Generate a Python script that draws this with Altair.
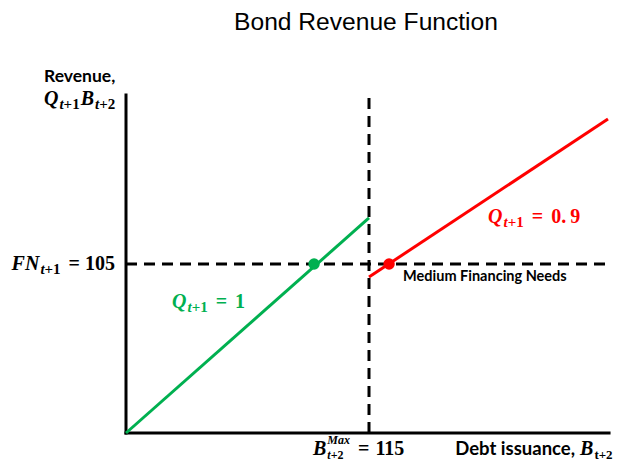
import altair as alt
import pandas as pd

# ---------------- data (picture units) ----------------
B_MAX = 115          # kink in debt issuance
FN = 105             # financing needs level
green_B = [0, 115]
green_R = [0, 133.6]
red_B = [115, 228.1]
red_R = [96.9, 195.1]
point_B = [89.0, 124.5]
point_R = [105, 105]
point_series = ["Q=1", "Q=0.9"]
X_END = 228.6        # end of horizontal axis
Y_TOP = 210          # top of vertical axis
V_TOP = 208.8        # top of vertical dashed line
H_END = 229.0        # end of horizontal dashed line

X_DOMAIN = [0, 230]
Y_DOMAIN = [0, 210]
W, H = 486, 338

GREEN = "#00B050"
RED = "#FF0000"
SERIF = "Liberation Serif"
SANS = "Lato"

xs = alt.Scale(domain=X_DOMAIN, nice=False, zero=False)
ys = alt.Scale(domain=Y_DOMAIN, nice=False, zero=False)
cs = alt.Scale(domain=point_series, range=[GREEN, RED])

# ---------------- helpers for math-like labels ----------------
WI = {'Q': 722, 'B': 667, 'F': 667, 'N': 722, 't': 278, 'M': 889, 'a': 500,
      'x': 500, '+': 570, '=': 570, ' ': 250, '.': 250}
WB = {'=': 570, '+': 570, '.': 250, ' ': 250, 't': 333}


def tw(txt, italic, size):
    tbl = WI if italic else WB
    return sum(tbl.get(c, 500) for c in txt) * size / 1000.0


def seg(txt, italic, size, rise=0, gap=0):
    return ("seg", txt, italic, size, rise, gap)


def stack(top, bottom, gap=0):
    return ("stack", top, bottom, gap)


def math_label(ax, ay, pieces, color, dx0, dy0, align="left"):
    plan = []
    cur = 0.0
    for p in pieces:
        if p[0] == "seg":
            _, txt, it, sz, rise, gap = p
            cur += gap
            plan.append((txt, it, sz, rise, cur))
            cur += tw(txt, it, sz)
        else:
            _, top, bottom, gap = p
            cur += gap
            widths = []
            for row in (top, bottom):
                c = cur
                for q in row:
                    _, txt, it, sz, rise, g = q
                    c += g
                    plan.append((txt, it, sz, rise, c))
                    c += tw(txt, it, sz)
                widths.append(c)
            cur = max(widths)
    shift = dx0 - cur if align == "right" else dx0
    src = pd.DataFrame({"x": [ax], "y": [ay]})
    layers = []
    for txt, it, sz, rise, off in plan:
        layers.append(
            alt.Chart(src).mark_text(
                text=txt, align="left", baseline="alphabetic",
                dx=shift + off, dy=dy0 - rise, font=SERIF, fontSize=sz,
                fontWeight="bold", fontStyle="italic" if it else "normal",
                color=color,
            ).encode(x=alt.X("x:Q", scale=xs, axis=None),
                     y=alt.Y("y:Q", scale=ys, axis=None))
        )
    return layers


def plain_text(ax, ay, txt, dx, dy, size, align="left", color="black"):
    src = pd.DataFrame({"x": [ax], "y": [ay]})
    return alt.Chart(src).mark_text(
        text=txt, align=align, baseline="alphabetic", dx=dx, dy=dy,
        font=SANS, fontSize=size, fontWeight="bold", color=color,
    ).encode(x=alt.X("x:Q", scale=xs, axis=None),
             y=alt.Y("y:Q", scale=ys, axis=None))


# ---------------- data frames ----------------
lines_df = pd.DataFrame({
    "B": green_B + red_B,
    "R": green_R + red_R,
    "series": [point_series[0]] * 2 + [point_series[1]] * 2,
})
points_df = pd.DataFrame({"B": point_B, "R": point_R, "series": point_series})
axes_df = pd.DataFrame({"x": [0, 0], "y": [0, 0], "x2": [X_END, 0], "y2": [0, Y_TOP]})
dash_df = pd.DataFrame({"x": [0, B_MAX], "y": [FN, 0], "x2": [H_END, B_MAX], "y2": [FN, V_TOP]})

X = lambda f: alt.X(f, scale=xs, axis=None)
Y = lambda f: alt.Y(f, scale=ys, axis=None)

dashes = alt.Chart(dash_df).mark_rule(
    color="black", strokeWidth=3, strokeDash=[11, 7]
).encode(x=X("x:Q"), y=Y("y:Q"), x2="x2:Q", y2="y2:Q")

axes = alt.Chart(axes_df).mark_rule(
    color="black", strokeWidth=3, strokeCap="square"
).encode(x=X("x:Q"), y=Y("y:Q"), x2="x2:Q", y2="y2:Q")

lines = alt.Chart(lines_df).mark_line(strokeWidth=3).encode(
    x=X("B:Q"), y=Y("R:Q"),
    color=alt.Color("series:N", scale=cs, legend=None),
    detail="series:N",
)

points = alt.Chart(points_df).mark_circle(size=130, opacity=1).encode(
    x=X("B:Q"), y=Y("R:Q"),
    color=alt.Color("series:N", scale=cs, legend=None),
)

layers = [dashes, axes, lines, points]

# y-axis title: "Revenue," / Q_{t+1} B_{t+2}
layers.append(plain_text(0, Y_TOP, "Revenue,", -82, -13, 17.5))
layers += math_label(0, Y_TOP, [
    seg("Q", True, 20),
    seg("t", True, 15, -4, 1), seg("+1", False, 15, -4, 0),
    seg("B", True, 20, 0, 1),
    seg("t", True, 15, -4, 1), seg("+2", False, 15, -4, 0),
], "black", -82, 10)

# FN_{t+1} = 105
layers += math_label(0, FN, [
    seg("FN", True, 20),
    seg("t", True, 15, -4, 1), seg("+1", False, 15, -4, 0),
    seg("=", False, 20, 0, 8),
    seg("105", False, 20, 0, 5),
], "black", -11, 6, align="right")

# B^{Max}_{t+2} = 115
layers += math_label(B_MAX, 0, [
    seg("B", True, 20),
    stack([seg("Max", True, 12, 11, 1)],
          [seg("t", True, 12, -4, 1), seg("+2", False, 12, -4, 0)]),
    seg("=", False, 20, 0, 8),
    seg("115", False, 20, 0, 6),
], "black", -56, 22)

# x-axis title: Debt issuance, B_{t+2}
layers.append(plain_text(X_END, 0, "Debt issuance,", -34, 22, 18.5, align="right"))
layers += math_label(X_END, 0, [
    seg("B", True, 20),
    seg("t+2", False, 13, -4, 1),
], "black", -29, 22)

# Q_{t+1} = 1 (green)
layers += math_label(point_B[0], point_R[0], [
    seg("Q", True, 20),
    seg("t", True, 15, -4, 1), seg("+1", False, 15, -4, 0),
    seg("=", False, 20, 0, 8),
    seg("1", False, 20, 0, 8),
], GREEN, -142, 44)

# Q_{t+1} = 0.9 (red)
layers += math_label(point_B[1], point_R[1], [
    seg("Q", True, 20),
    seg("t", True, 15, -4, 1), seg("+1", False, 15, -4, 0),
    seg("=", False, 20, 0, 8),
    seg("0.", False, 20, 0, 8),
    seg("9", False, 20, 0, 4),
], RED, 99, -41)

# Medium Financing Needs
layers.append(plain_text(point_B[1], point_R[1], "Medium Financing Needs", 14, 17, 14.5))

chart = alt.layer(*layers).properties(
    width=W, height=H,
    title=alt.TitleParams(
        text="Bond Revenue Function", font="Liberation Sans", fontSize=24.6,
        fontWeight="normal", color="black", anchor="middle", frame="group",
        offset=32, dx=-3,
    ),
    autosize=alt.AutoSizeParams(type="none"),
    padding={"left": 118, "top": 87, "right": 4, "bottom": 30},
).configure_view(stroke=None)

chart.save("out.html", embed_options={"renderer": "svg", "actions": False})
